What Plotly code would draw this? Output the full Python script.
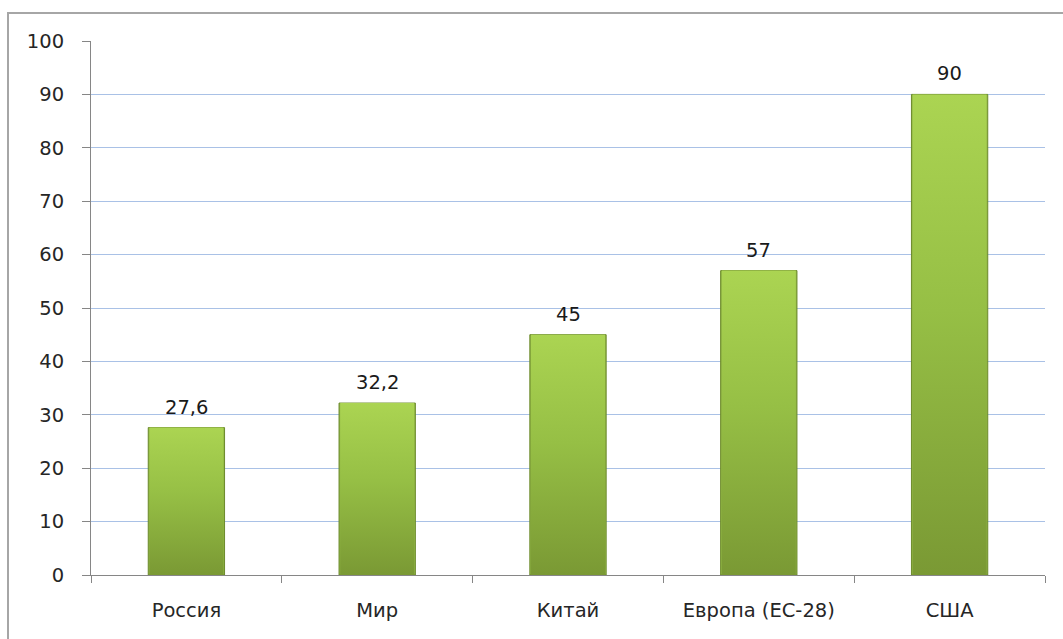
import plotly.graph_objects as go

categories = ["Россия", "Мир", "Китай", "Европа (ЕС-28)", "США"]
values = [27.6, 32.2, 45, 57, 90]
y_ticks = [0, 10, 20, 30, 40, 50, 60, 70, 80, 90, 100]

W, H = 1063, 639
L, R, T, B = 91, 18, 41, 64
plot_w = W - L - R
plot_h = H - T - B
BAR_W = 0.4
FONT = "DejaVu Sans"
FSIZE = 19.5

positions = list(range(len(categories)))
labels = [f"{v:g}".replace(".", ",") for v in values]

fig = go.Figure()

# base bars (solid, with dark edge)
fig.add_trace(go.Bar(
    x=positions, y=values, width=BAR_W,
    marker=dict(color="#8fb443", line=dict(color="#6c8a2b", width=1)),
    hoverinfo="skip", showlegend=False,
))

# vertical gradient overlay on each bar
half = BAR_W / 2
for i, v in zip(positions, values):
    inset = 0.006
    fig.add_trace(go.Scatter(
        x=[i - half + inset, i + half - inset, i + half - inset, i - half + inset, i - half + inset],
        y=[0, 0, v, v, 0],
        mode="lines", line=dict(width=0),
        fill="toself",
        fillgradient=dict(type="vertical",
                          colorscale=[[0, "#7a9934"], [0.55, "#96bf45"], [1, "#abd452"]]),
        hovertemplate=f"{categories[i]}: {labels[i]}<extra></extra>",
        showlegend=False,
    ))

# value labels above the bars
for i, v, t in zip(positions, values, labels):
    fig.add_annotation(x=i, y=v, text=t, showarrow=False,
                       yanchor="bottom", yshift=7,
                       font=dict(family=FONT, size=FSIZE, color="#1a1a1a"))

# outer chart-area frame (open on right and bottom)
fx0 = (8 - L) / plot_w
fy1 = (H - B - 13) / plot_h
fig.add_shape(type="rect", xref="paper", yref="paper",
              x0=fx0, x1=1.2, y0=-0.5, y1=fy1,
              line=dict(color="#a6a6a6", width=2), layer="below")

fig.update_layout(
    width=W, height=H,
    margin=dict(l=L, r=R, t=T, b=B),
    paper_bgcolor="white", plot_bgcolor="white",
    showlegend=False,
    font=dict(family=FONT, size=FSIZE, color="#262626"),
    xaxis=dict(
        range=[-0.5, len(categories) - 0.5],
        tickvals=positions, ticktext=categories,
        showline=True, linecolor="#868686", linewidth=1,
        ticks="", showgrid=False, zeroline=False,
        tickfont=dict(family=FONT, size=FSIZE, color="#262626"),
        ticklabelstandoff=18,
        minor=dict(tickvals=[p - 0.5 for p in positions] + [len(categories) - 0.5],
                   ticks="outside", ticklen=7, tickcolor="#868686", showgrid=False),
    ),
    yaxis=dict(
        range=[0, 100],
        tickvals=y_ticks,
        showline=True, linecolor="#868686", linewidth=1,
        ticks="outside", ticklen=8, tickcolor="#868686",
        showgrid=True, gridcolor="#a9c1e6", gridwidth=1,
        zeroline=False,
        tickfont=dict(family=FONT, size=FSIZE, color="#262626"),
        ticklabelstandoff=14,
    ),
)

fig.write_html("out.html")
